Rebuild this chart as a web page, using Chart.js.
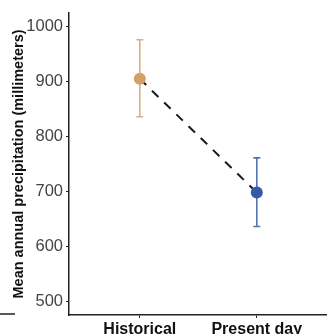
<!DOCTYPE html>
<html>
<head>
<meta charset="utf-8">
<script src="https://cdn.jsdelivr.net/npm/chart.js@4"></script>
<style>
  body { margin: 0; background: #fff; }
  canvas { display: block; }
</style>
</head>
<body>
<canvas id="chartPrecip" width="327" height="334"></canvas>
<script>
// values
const periods = ["Historical", "Present day"];
const meanPrecip = [905, 698];
const errLow = [836, 636];
const errHigh = [976, 761];
const yTicks = [500, 600, 700, 800, 900, 1000];

const pointColors = ["#d49f68", "#3659a6"];
const barColors = ["#d9b084", "#5274b0"];

const font = "'Liberation Sans', Arial, sans-serif";

const errorBars = {
  id: "errorBars",
  beforeDatasetsDraw(chart) {
    const { ctx, scales } = chart;
    ctx.save();
    ctx.lineWidth = 1.6;
    meanPrecip.forEach((m, i) => {
      const x = scales.x.getPixelForValue(i);
      const yLo = scales.y.getPixelForValue(errLow[i]);
      const yHi = scales.y.getPixelForValue(errHigh[i]);
      ctx.strokeStyle = barColors[i];
      ctx.beginPath();
      ctx.moveTo(x, yLo);
      ctx.lineTo(x, yHi);
      ctx.moveTo(x - 3.5, yLo);
      ctx.lineTo(x + 3.5, yLo);
      ctx.moveTo(x - 3.5, yHi);
      ctx.lineTo(x + 3.5, yHi);
      ctx.stroke();
    });
    ctx.restore();
  },
  afterDraw(chart) {
    // bit of the neighbouring panel's axis at the far left
    const { ctx, chartArea } = chart;
    ctx.save();
    ctx.strokeStyle = "#222";
    ctx.lineWidth = 1.5;
    ctx.beginPath();
    ctx.moveTo(0, chartArea.bottom - 1);
    ctx.lineTo(15, chartArea.bottom - 1);
    ctx.stroke();
    ctx.restore();
  }
};

const data = {
  datasets: [
    {
      data: meanPrecip.map((v, i) => ({ x: i, y: v })),
      borderColor: "#1a1a1a",
      borderWidth: 2,
      borderDash: [9, 8],
      pointRadius: 6,
      pointHoverRadius: 6,
      pointBorderWidth: 0,
      pointBackgroundColor: pointColors,
    },
  ],
};

const config = {
  type: "line",
  data,
  plugins: [errorBars],
  options: {
    responsive: false,
    animation: false,
    layout: { autoPadding: false, padding: { top: 10, left: 0, right: 0, bottom: 0 } },
    plugins: { legend: { display: false }, tooltip: { enabled: false } },
    scales: {
      x: {
        type: "linear",
        min: -0.605,
        max: 1.6,
        afterBuildTicks: (axis) => {
          axis.ticks = periods.map((p, i) => ({ value: i }));
        },
        afterFit: (axis) => { axis.height = 19; },
        ticks: {
          callback: (v) => periods[v],
          color: "#111",
          font: { family: font, size: 16, weight: "bold" },
          padding: 2,
          maxRotation: 0,
        },
        grid: { display: true, drawOnChartArea: false, drawTicks: true, tickLength: 3, color: "#222" },
        border: { display: true, color: "#222", width: 1.5 },
      },
      y: {
        min: 475,
        max: 1025,
        afterBuildTicks: (axis) => {
          axis.ticks = yTicks.map((v) => ({ value: v }));
        },
        afterFit: (axis) => { axis.width = 69; },
        title: {
          display: true,
          text: "Mean annual precipitation (millimeters)",
          color: "#111",
          font: { family: font, size: 14.5, weight: "bold" },
          padding: { top: 10, bottom: 0 },
        },
        ticks: {
          callback: (v) => String(v),
          color: "#444",
          font: { family: font, size: 16.5 },
          padding: 3,
        },
        grid: { display: true, drawOnChartArea: false, drawTicks: true, tickLength: 3, color: "#222" },
        border: { display: true, color: "#222", width: 1.5 },
      },
    },
  },
};

const chartPrecip = new Chart(document.getElementById("chartPrecip"), config);
</script>
</body>
</html>
